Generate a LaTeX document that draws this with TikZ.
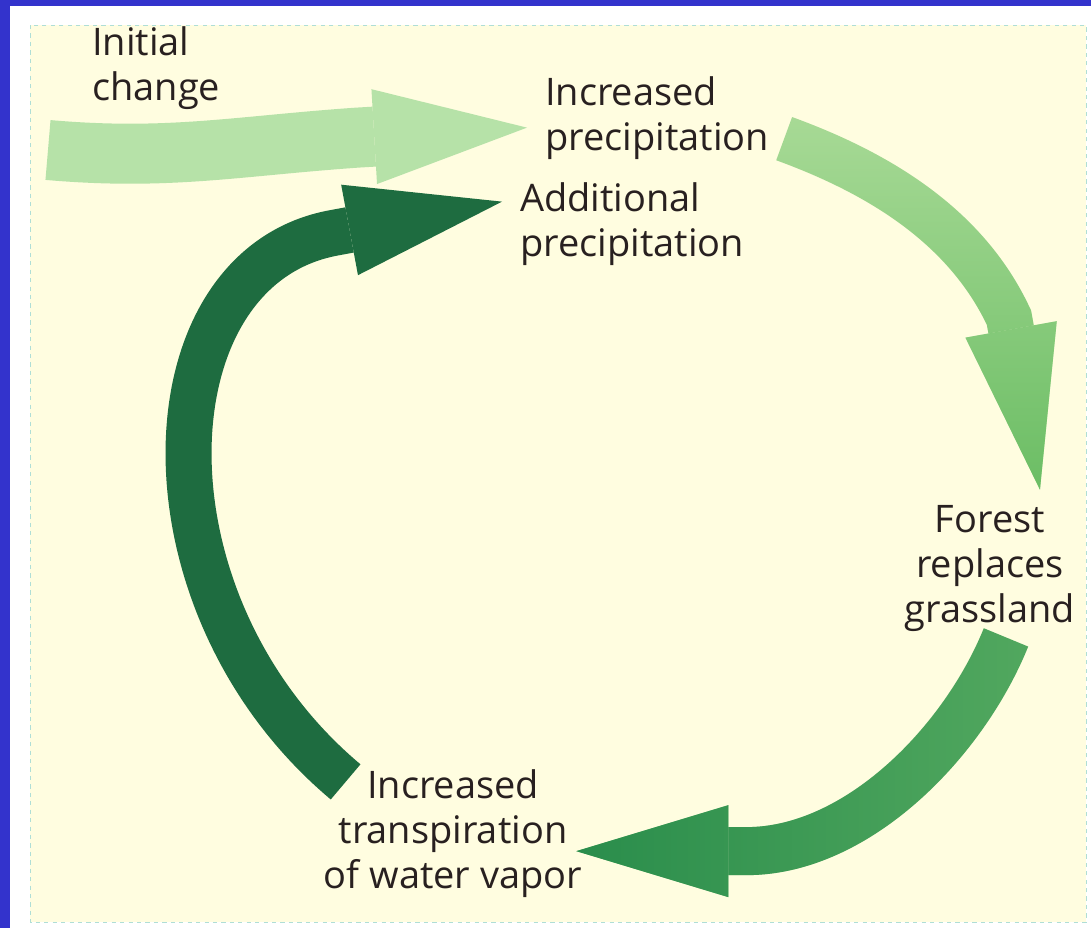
\documentclass[tikz,border=0pt]{standalone}
\usepackage{fontspec}
\setmainfont{Open Sans}
\usetikzlibrary{arrows.meta, fadings}
\definecolor{slideblue}{RGB}{51,51,204}
\definecolor{panelcream}{RGB}{255,253,224}
\definecolor{paneledge}{RGB}{175,222,214}
\definecolor{inktext}{RGB}{40,32,32}
\definecolor{palegreen}{RGB}{182,226,168}
\definecolor{springgreen}{RGB}{168,218,150}
\definecolor{grassgreen}{RGB}{104,188,98}
\definecolor{leafgreen}{RGB}{82,168,95}
\definecolor{pinegreen}{RGB}{40,140,75}
\definecolor{darkgreen}{RGB}{30,108,64}

\begin{document}
\begin{tikzpicture}[
		x=0.025cm, y=-0.025cm,
		txt/.style={text=inktext, inner sep=0pt, font=\fontsize{27}{32}\selectfont},
		flow/.style n args={3}{line width=#1, -{Triangle[line width=0pt, length=#2, width=#3]}},
		deepen/.style 2 args={postaction={draw=#1, path fading=#2}},
	]
	\useasboundingbox (0,0) rectangle (1091,928);
	% frame of the slide
	\fill[slideblue] (0,0) rectangle (1091,928);
	\fill[white] (10,6) rectangle (1091,928);
	\draw[paneledge, dashed, line width=0.6pt, fill=panelcream] (30,25) rectangle (1086,922);

	\node[txt, anchor=base west, align=left] (init) at (92,100) {Initial\\change};
	\node[txt, anchor=base west, align=left] (incprec) at (545,150) {Increased\\precipitation};
	\node[txt, anchor=base west, align=left] (addprec) at (520,256) {Additional\\precipitation};
	\node[txt, anchor=base, align=center] (forest) at (990,622) {Forest\\replaces\\grassland};
	\node[txt, anchor=base, align=center] (transp) at (453,888) {Increased\\transpiration\\of water vapor};
	\coordinate (start) at (48,150);

	% the loop: curve, then a straight run into each head
	\draw[flow={1.5cm}{3.825cm}{2.375cm}, palegreen] (start) to[out=-5, in=184] ([shift={(-188,20)}]incprec.west) -- ([shift={(-18,10)}]incprec.west);
	\draw[flow={1.15cm}{4.07cm}{2.32cm}, springgreen, deepen={grassgreen}{north}] ([shift={(15,21)}]incprec.east) to[out=-20, in=115, looseness=0.9] ([shift={(19,-187)}]forest.north) -- ([shift={(50,-15)}]forest.north);
	\draw[flow={1.2cm}{3.8cm}{2.3cm}, leafgreen, deepen={pinegreen}{east}] ([shift={(16,6)}]forest.south) to[out=-112, in=0, looseness=0.85] ([shift={(164,18)}]transp.east) -- ([shift={(-6,18)}]transp.east);
	\draw[flow={1.15cm}{3.875cm}{2.3cm}, darkgreen] ([shift={(22,13)}]transp.north west) to[out=140, in=190, out looseness=1.3, in looseness=0.9] ([shift={(-185,9)}]addprec.west) -- ([shift={(-18,-22)}]addprec.west);
\end{tikzpicture}
\end{document}
